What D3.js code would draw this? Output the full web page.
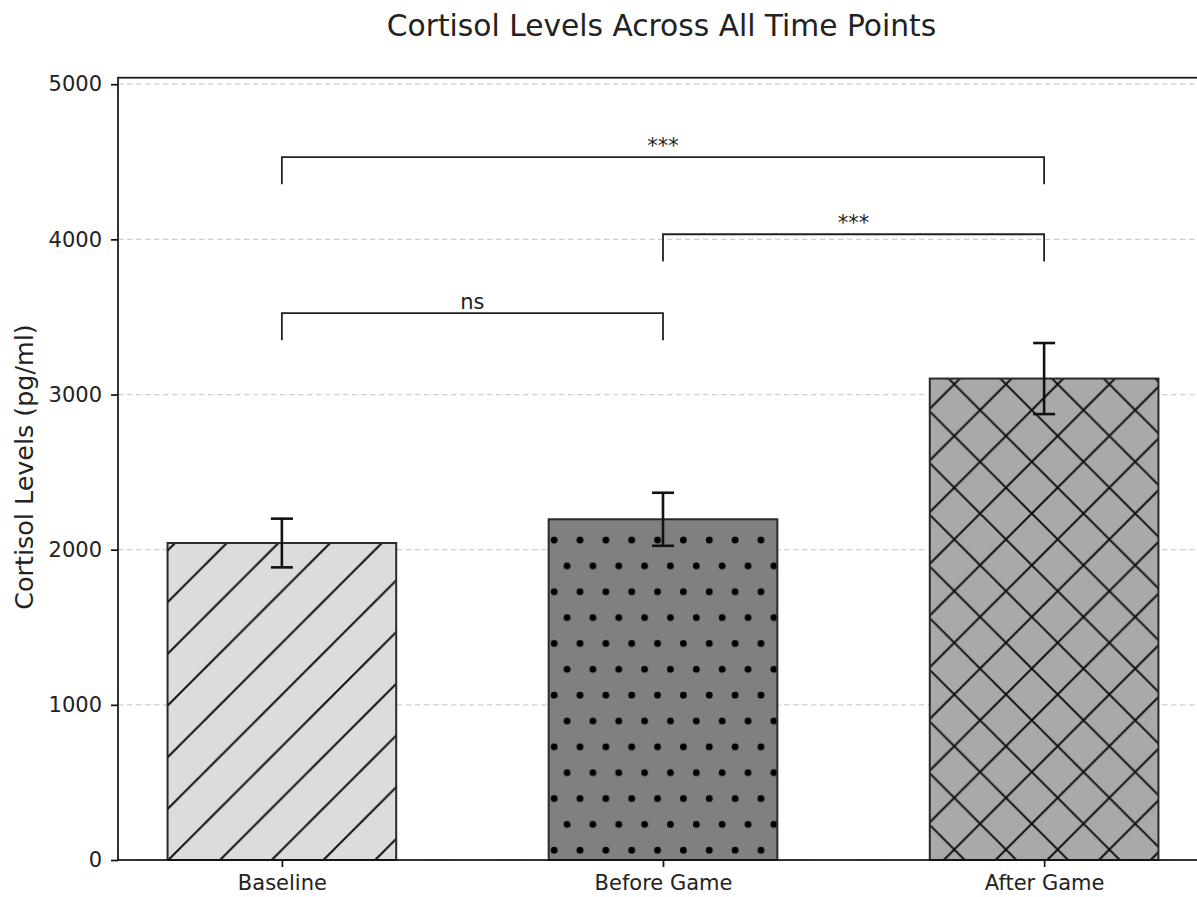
<!DOCTYPE html>
<html>
<head>
<meta charset="utf-8">
<script src="https://cdn.jsdelivr.net/npm/d3@7"></script>
<style>
  body { margin: 0; background: #fff; }
  text { font-family: "DejaVu Sans", sans-serif; fill: #222; }
</style>
</head>
<body>
<div id="chart"></div>
<script>
// data
var categories = ["Baseline", "Before Game", "After Game"];
var means = [2043, 2196, 3103];
var errors = [157, 171, 229];
var yTicks = [0, 1000, 2000, 3000, 4000, 5000];

// significance brackets: which bars, where the bracket starts, label
var bracketFrom = [0, 1, 0];
var bracketTo = [1, 2, 2];
var bracketLevels = [3350, 3858, 4355];
var bracketHeight = 175;
var bracketLabels = ["ns", "***", "***"];

// styling per bar
var fills = ["#dcdcdc", "#808080", "#a9a9a9"];
var hatches = ["hatch-slash", "hatch-dots", "hatch-cross"];

var width = 1197,
    height = 897;

var x = d3.scaleLinear().domain([-0.43, 2.43]).range([118, 1208]);
var y = d3.scaleLinear().domain([0, 5042]).range([860, 77.7]);

var svg = d3.select("#chart").append("svg")
    .attr("width", width)
    .attr("height", height);

// hatch patterns, anchored to the page origin like matplotlib does
var P = 51.7;
var defs = svg.append("defs");

var slash = defs.append("pattern")
    .attr("id", "hatch-slash")
    .attr("patternUnits", "userSpaceOnUse")
    .attr("width", P).attr("height", P);
[-1, 0, 1, 2].forEach(function(k) {
    var c = 46 + k * P;
    slash.append("line")
        .attr("x1", -P).attr("y1", c + P)
        .attr("x2", 2 * P).attr("y2", c - 2 * P)
        .attr("stroke", "#111").attr("stroke-width", 2);
});

var cross = defs.append("pattern")
    .attr("id", "hatch-cross")
    .attr("patternUnits", "userSpaceOnUse")
    .attr("width", P).attr("height", P);
[-1, 0, 1, 2].forEach(function(k) {
    var c = 46 + k * P;
    cross.append("line")
        .attr("x1", -P).attr("y1", c + P)
        .attr("x2", 2 * P).attr("y2", c - 2 * P)
        .attr("stroke", "#111").attr("stroke-width", 2);
    var d = 1.3 + k * P;
    cross.append("line")
        .attr("x1", -P).attr("y1", -P - d)
        .attr("x2", 2 * P).attr("y2", 2 * P - d)
        .attr("stroke", "#111").attr("stroke-width", 2);
});

var W = P / 2;
var dots = defs.append("pattern")
    .attr("id", "hatch-dots")
    .attr("patternUnits", "userSpaceOnUse")
    .attr("width", W).attr("height", P);
[[11.3, 23], [11.3 + W / 2, 23 + P / 2]].forEach(function(pt) {
    [-W, 0, W].forEach(function(dx) {
        [-P, 0, P].forEach(function(dy) {
            dots.append("circle")
                .attr("cx", pt[0] + dx).attr("cy", pt[1] + dy)
                .attr("r", 3.4).attr("fill", "#000");
        });
    });
});

// grid
svg.append("g").selectAll("line")
    .data(yTicks)
    .enter().append("line")
    .attr("x1", 118).attr("x2", 1208)
    .attr("y1", function(d) { return y(d); })
    .attr("y2", function(d) { return y(d); })
    .attr("stroke", "#cfcfcf")
    .attr("stroke-width", 1.2)
    .attr("stroke-dasharray", "5.5,3.5");

// bars
var barW = x(0.6) - x(0);
var bars = svg.append("g").selectAll("g")
    .data(categories)
    .enter().append("g");

bars.append("rect")
    .attr("x", function(d, i) { return x(i) - barW / 2; })
    .attr("y", function(d, i) { return y(means[i]); })
    .attr("width", barW)
    .attr("height", function(d, i) { return y(0) - y(means[i]); })
    .attr("fill", function(d, i) { return fills[i]; });

bars.append("rect")
    .attr("x", function(d, i) { return x(i) - barW / 2; })
    .attr("y", function(d, i) { return y(means[i]); })
    .attr("width", barW)
    .attr("height", function(d, i) { return y(0) - y(means[i]); })
    .attr("fill", function(d, i) { return "url(#" + hatches[i] + ")"; })
    .attr("stroke", "#2a2a2a")
    .attr("stroke-width", 2);

// error bars
var eb = svg.append("g").attr("stroke", "#111").attr("stroke-width", 2.6);
categories.forEach(function(c, i) {
    var cx = x(i);
    eb.append("line")
        .attr("x1", cx).attr("x2", cx)
        .attr("y1", y(means[i] - errors[i])).attr("y2", y(means[i] + errors[i]));
    [means[i] - errors[i], means[i] + errors[i]].forEach(function(v) {
        eb.append("line")
            .attr("x1", cx - 11).attr("x2", cx + 11)
            .attr("y1", y(v)).attr("y2", y(v));
    });
});

// brackets
var br = svg.append("g");
bracketLabels.forEach(function(lab, i) {
    var x1 = x(bracketFrom[i]), x2 = x(bracketTo[i]);
    var yb = y(bracketLevels[i]), yt = y(bracketLevels[i] + bracketHeight);
    br.append("path")
        .attr("d", "M" + x1 + "," + yb + "V" + yt + "H" + x2 + "V" + yb)
        .attr("fill", "none")
        .attr("stroke", "#222")
        .attr("stroke-width", 1.8);
    br.append("text")
        .attr("x", (x1 + x2) / 2)
        .attr("y", yt - 4)
        .attr("text-anchor", "middle")
        .attr("font-size", "21px")
        .text(lab);
});

// axes
var yAxis = svg.append("g")
    .attr("transform", "translate(118,0)")
    .call(d3.axisLeft(y).tickValues(yTicks).tickSize(7).tickPadding(9).tickFormat(d3.format("d")));
var xAxis = svg.append("g")
    .attr("transform", "translate(0,860)")
    .call(d3.axisBottom(x).tickValues([0, 1, 2]).tickSize(7).tickPadding(8)
        .tickFormat(function(d) { return categories[d]; }));

[yAxis, xAxis].forEach(function(a) {
    a.select(".domain").remove();
    a.selectAll(".tick line").attr("stroke", "#111").attr("stroke-width", 1.7);
    a.selectAll(".tick text")
        .attr("font-size", "21px")
        .attr("font-family", "DejaVu Sans, sans-serif")
        .attr("fill", "#222");
});

// spines
var sp = svg.append("g").attr("stroke", "#111").attr("stroke-width", 1.7).attr("fill", "none");
sp.append("rect")
    .attr("x", 118).attr("y", 77.7)
    .attr("width", 1208 - 118).attr("height", 860 - 77.7);

// labels
svg.append("text")
    .attr("x", 661.5)
    .attr("y", 36)
    .attr("text-anchor", "middle")
    .attr("font-size", "29.7px")
    .text("Cortisol Levels Across All Time Points");

svg.append("text")
    .attr("transform", "translate(33,467) rotate(-90)")
    .attr("text-anchor", "middle")
    .attr("font-size", "25.4px")
    .text("Cortisol Levels (pg/ml)");
</script>
</body>
</html>
